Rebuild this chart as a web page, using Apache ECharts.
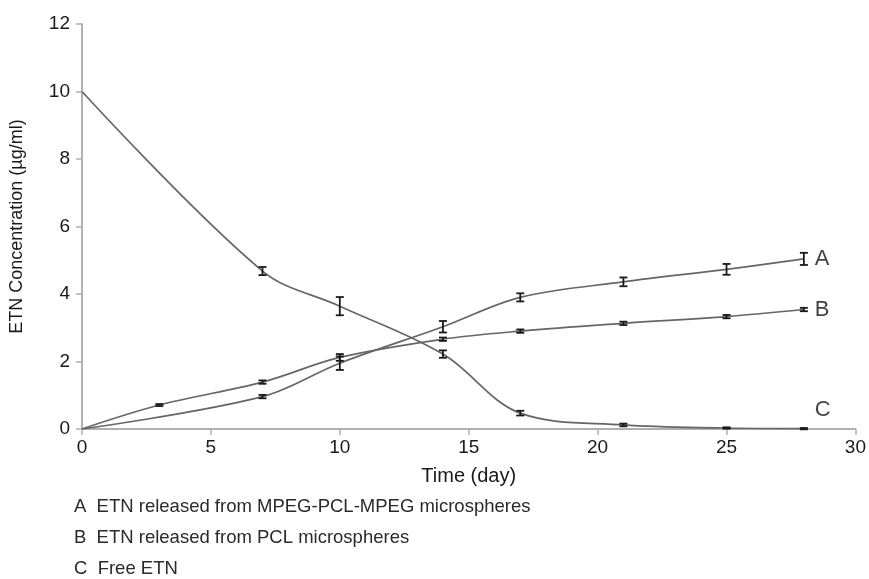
<!DOCTYPE html>
<html>
<head>
<meta charset="utf-8">
<script src="https://cdn.jsdelivr.net/npm/echarts@6/dist/echarts.min.js"></script>
<style>
  html, body { margin: 0; padding: 0; background: #fff; }
  #chart { width: 869px; height: 579px; }
</style>
</head>
<body>
<div id="chart"></div>
<script>
// Release profiles of ETN (concentration in µg/ml over time in days)
const daysA = [0, 7, 10, 14, 17, 21, 25, 28];
const valuesA = [0, 0.96, 1.95, 3.03, 3.90, 4.36, 4.73, 5.04];
const errorsA = [0, 0.05, 0.2, 0.17, 0.12, 0.13, 0.16, 0.18];

const daysB = [0, 3, 7, 10, 14, 17, 21, 25, 28];
const valuesB = [0, 0.71, 1.39, 2.12, 2.66, 2.90, 3.13, 3.33, 3.54];
const errorsB = [0, 0.03, 0.05, 0.1, 0.05, 0.05, 0.05, 0.05, 0.05];

const daysC = [0, 7, 10, 14, 17, 21, 25, 28];
const valuesC = [10, 4.68, 3.64, 2.22, 0.47, 0.12, 0.03, 0.01];
const errorsC = [0, 0.12, 0.27, 0.11, 0.07, 0.04, 0.02, 0.02];

const seriesTags = ['A', 'B', 'C'];
const legendLines = [
  'A  ETN released from MPEG-PCL-MPEG microspheres',
  'B  ETN released from PCL microspheres',
  'C  Free ETN'
];
const xTicks = [0, 5, 10, 15, 20, 25, 30];
const yTicks = [0, 2, 4, 6, 8, 10, 12];

const lineColor = '#666666';
const barColor = '#1a1a1a';
const textFont = 'Liberation Sans, Arial, sans-serif';

function pairs(xs, ys) { return xs.map((x, i) => [x, ys[i]]); }
// error rows only where a measurement spread exists
function errRows(xs, ys, es) {
  return xs.map((x, i) => [x, ys[i] - es[i], ys[i] + es[i]]).filter((r, i) => es[i] > 0);
}

function errorBarRender(params, api) {
  const x = api.value(0);
  const lo = api.coord([x, api.value(1)]);
  const hi = api.coord([x, api.value(2)]);
  const half = 4;
  const style = { stroke: barColor, lineWidth: 1.8, fill: null };
  return {
    type: 'group',
    children: [
      { type: 'line', shape: { x1: hi[0], y1: hi[1], x2: lo[0], y2: lo[1] }, style },
      { type: 'line', shape: { x1: hi[0] - half, y1: hi[1], x2: hi[0] + half, y2: hi[1] }, style },
      { type: 'line', shape: { x1: lo[0] - half, y1: lo[1], x2: lo[0] + half, y2: lo[1] }, style }
    ]
  };
}

function lineSeries(name, xs, ys) {
  return {
    name,
    type: 'line',
    data: pairs(xs, ys),
    smooth: 0.35,
    symbol: 'none',
    lineStyle: { color: lineColor, width: 1.7 },
    z: 2
  };
}

function errSeries(xs, ys, es) {
  return {
    type: 'custom',
    renderItem: errorBarRender,
    data: errRows(xs, ys, es),
    encode: { x: 0, y: [1, 2] },
    z: 3,
    silent: true
  };
}

// letter tag placed next to the final point of each curve
function tagSeries(xs, ys, tag, dy) {
  const last = xs.length - 1;
  return {
    type: 'scatter',
    data: [[xs[last], ys[last]]],
    symbolSize: 0,
    silent: true,
    label: {
      show: true,
      formatter: tag,
      position: 'right',
      distance: 11,
      offset: [0, dy],
      fontSize: 22,
      color: '#111',
      fontFamily: textFont
    }
  };
}

const option = {
  animation: false,
  backgroundColor: '#fff',
  grid: { left: 82, right: 8, top: 24, bottom: 150, containLabel: false },
  xAxis: {
    type: 'value',
    min: xTicks[0],
    max: xTicks[xTicks.length - 1],
    interval: 5,
    name: 'Time (day)',
    nameLocation: 'middle',
    nameGap: 37,
    nameTextStyle: { fontSize: 20, color: '#1a1a1a', fontFamily: textFont },
    axisLine: { lineStyle: { color: '#b0b0b0', width: 2 } },
    axisTick: { show: true, length: 6, lineStyle: { color: '#b0b0b0', width: 1.5 } },
    axisLabel: { fontSize: 19, color: '#1a1a1a', margin: 9, fontFamily: textFont },
    splitLine: { show: false }
  },
  yAxis: {
    type: 'value',
    min: yTicks[0],
    max: yTicks[yTicks.length - 1],
    interval: 2,
    name: 'ETN Concentration (µg/ml)',
    nameLocation: 'middle',
    nameGap: 56,
    nameTextStyle: { fontSize: 18, color: '#1a1a1a', fontFamily: textFont },
    axisLine: { show: true, lineStyle: { color: '#b0b0b0', width: 2 } },
    axisTick: { show: true, length: 6, lineStyle: { color: '#b0b0b0', width: 1.5 } },
    axisLabel: { fontSize: 19, color: '#1a1a1a', margin: 12, fontFamily: textFont },
    splitLine: { show: false }
  },
  series: [
    lineSeries('A', daysA, valuesA),
    lineSeries('B', daysB, valuesB),
    lineSeries('C', daysC, valuesC),
    errSeries(daysA, valuesA, errorsA),
    errSeries(daysB, valuesB, errorsB),
    errSeries(daysC, valuesC, errorsC),
    tagSeries(daysA, valuesA, seriesTags[0], 0),
    tagSeries(daysB, valuesB, seriesTags[1], 0),
    tagSeries(daysC, valuesC, seriesTags[2], -19)
  ],
  graphic: legendLines.map((t, i) => ({
    type: 'text',
    left: 74,
    top: 497 + i * 31,
    style: { text: t, fill: '#2a2a2a', font: '18.5px ' + textFont }
  }))
};

const chart = echarts.init(document.getElementById('chart'), null, { renderer: 'canvas' });
chart.setOption(option);
</script>
</body>
</html>
